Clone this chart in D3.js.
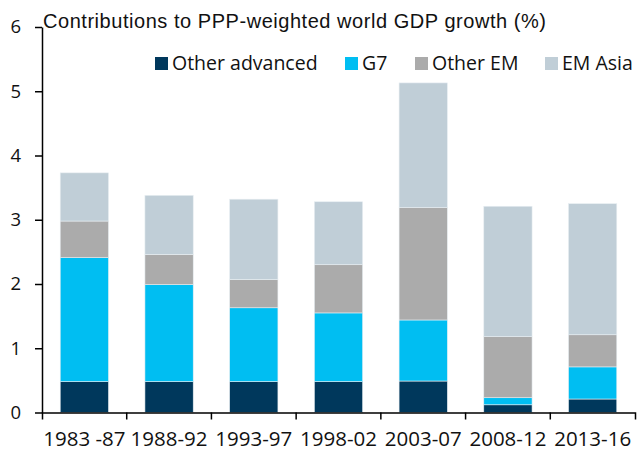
<!DOCTYPE html>
<html lang="en">
  <head>
    <meta charset="utf-8" />
    <title>Contributions to PPP-weighted world GDP growth</title>
    <script src="https://cdnjs.cloudflare.com/ajax/libs/d3/7.8.5/d3.min.js"></script>
    <style>
      body { margin: 0; background: #fff; }
      .title { font-family: "Liberation Sans", Arial, sans-serif; font-size: 20px; fill: #111; }
      .legend text { font-family: "Open Sans", sans-serif; font-size: 19.5px; fill: #111; }
      .axis text { font-family: "Open Sans", sans-serif; font-size: 18.5px; fill: #111; }
      .x-axis text { font-size: 20.5px; }
      .axis path, .axis line { stroke: #000; stroke-width: 1.5; }
    </style>
  </head>
  <body>
    <script>
      // chart data
      const periods = ['1983 -87', '1988-92', '1993-97', '1998-02', '2003-07', '2008-12', '2013-16'];
      const seriesNames = ['Other advanced', 'G7', 'Other EM', 'EM Asia'];
      const otherAdvanced = [0.48, 0.48, 0.48, 0.48, 0.49, 0.12, 0.21];
      const g7 = [1.93, 1.51, 1.15, 1.07, 0.95, 0.11, 0.50];
      const otherEM = [0.57, 0.47, 0.44, 0.75, 1.75, 0.95, 0.50];
      const emAsia = [0.75, 0.92, 1.25, 0.98, 1.94, 2.03, 2.04];
      const yTicks = [0, 1, 2, 3, 4, 5, 6];
      const colors = ['#00385c', '#00bef2', '#ababab', '#c0ced7'];

      const width = 638;
      const height = 452;
      const marginLeft = 42;
      const marginRight = 3;
      const marginTop = 27;
      const marginBottom = 39.5;

      const rows = periods.map((p, i) => ({
        period: p,
        'Other advanced': otherAdvanced[i],
        'G7': g7[i],
        'Other EM': otherEM[i],
        'EM Asia': emAsia[i],
      }));

      const stacked = d3.stack().keys(seriesNames)(rows);

      const x = d3.scaleBand()
        .domain(periods)
        .range([marginLeft, width - marginRight])
        .paddingInner(0.43)
        .paddingOuter(0.215);

      const y = d3.scaleLinear()
        .domain([0, 6])
        .range([height - marginBottom, marginTop]);

      const color = d3.scaleOrdinal(seriesNames, colors);

      const svg = d3.select('body')
        .append('svg')
        .attr('width', width)
        .attr('height', height)
        .attr('viewBox', [0, 0, width, height]);

      // bars
      svg.append('g')
        .selectAll('g')
        .data(stacked)
        .join('g')
        .attr('fill', d => color(d.key))
        .selectAll('rect')
        .data(d => d)
        .join('rect')
        .attr('x', d => x(d.data.period))
        .attr('y', d => y(d[1]))
        .attr('width', x.bandwidth())
        .attr('height', d => y(d[0]) - y(d[1]))
        .attr('stroke', '#e8eef2')
        .attr('stroke-width', 0.6);

      // y axis
      svg.append('g')
        .attr('class', 'axis')
        .attr('transform', `translate(${marginLeft},0)`)
        .call(d3.axisLeft(y).tickValues(yTicks).tickFormat(d3.format('d'))
          .tickSize(7).tickSizeOuter(0).tickPadding(14));

      // x axis, labels centred, ticks on the category boundaries
      const xAxis = svg.append('g')
        .attr('class', 'axis x-axis')
        .attr('transform', `translate(0,${height - marginBottom})`)
        .call(d3.axisBottom(x).tickSize(0).tickSizeOuter(7).tickPadding(19));

      const gap = x.step() * x.paddingInner() / 2;
      xAxis.selectAll('.boundary')
        .data(periods.slice(1))
        .join('line')
        .attr('class', 'boundary')
        .attr('x1', d => x(d) - gap)
        .attr('x2', d => x(d) - gap)
        .attr('y1', 0)
        .attr('y2', 7);

      // title
      svg.append('text')
        .attr('class', 'title')
        .attr('x', 43)
        .attr('y', 28)
        .attr('textLength', 503)
        .attr('lengthAdjust', 'spacing')
        .text('Contributions to PPP-weighted world GDP growth (%)');

      // legend
      const legendX = [155, 345, 415, 545];
      const legend = svg.append('g')
        .attr('class', 'legend')
        .selectAll('g')
        .data(seriesNames)
        .join('g')
        .attr('transform', (d, i) => `translate(${legendX[i]},57)`);

      legend.append('rect')
        .attr('width', 13)
        .attr('height', 13)
        .attr('fill', d => color(d));

      legend.append('text')
        .attr('x', 17)
        .attr('y', 12.5)
        .text(d => d);
    </script>
  </body>
</html>
